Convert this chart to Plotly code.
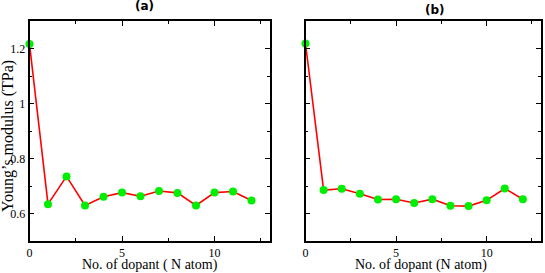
import plotly.graph_objects as go

dopants = list(range(13))
young_a = [1.216, 0.634, 0.735, 0.629, 0.661, 0.676, 0.663, 0.682, 0.675, 0.629, 0.676, 0.680, 0.647]
young_b = [1.218, 0.685, 0.690, 0.672, 0.651, 0.652, 0.638, 0.652, 0.628, 0.627, 0.648, 0.691, 0.652]
panel_titles = ["(a)", "(b)"]
x_titles = ["No. of dopant ( N atom)", "No. of dopant (N atom)"]
y_title = "Young\u2019s modulus (TPa)"

W, H = 545, 273
fig = go.Figure()

serif = "Liberation Serif, Times New Roman, serif"
xdoms = [[29.5 / W, 270 / W], [305.5 / W, 541 / W]]
ydom = [1 - 241 / H, 1 - 21 / H]

for i, ys in enumerate([young_a, young_b]):
    xa = "x" if i == 0 else "x2"
    ya = "y" if i == 0 else "y2"
    fig.add_trace(go.Scatter(
        x=dopants, y=ys, xaxis=xa, yaxis=ya, mode="lines+markers",
        line=dict(color="#ff0000", width=1.6),
        marker=dict(color="#00ee00", size=8, line=dict(width=0)),
        showlegend=False, cliponaxis=False))

common = dict(showline=True, linecolor="black", linewidth=1.5, mirror="allticks",
              ticks="inside", ticklen=5, tickwidth=1, tickcolor="black",
              showgrid=False, zeroline=False, automargin=False,
              tickfont=dict(family=serif, size=12, color="black"))

for i in range(2):
    sfx = "" if i == 0 else "2"
    fig.update_layout(**{
        "xaxis" + sfx: dict(common, domain=xdoms[i], range=[0, 13], dtick=5, tick0=0,
                            anchor="y" + sfx,
                            minor=dict(ticks="inside", ticklen=3, dtick=2.5, tick0=0,
                                       tickcolor="black", showgrid=False)),
        "yaxis" + sfx: dict(common, domain=ydom, range=[0.5, 1.3], dtick=0.2, tick0=0.6,
                            anchor="x" + sfx, showticklabels=(i == 0),
                            minor=dict(ticks="inside", ticklen=3, dtick=0.1, tick0=0.5,
                                       tickcolor="black", showgrid=False)),
    })

def ann(text, x, y, size, family, angle=0):
    return dict(text=text, x=x / W, y=1 - y / H, xref="paper", yref="paper", textangle=angle,
                xanchor="center", yanchor="middle", showarrow=False,
                font=dict(family=family, size=size, color="black"))

fig.update_layout(
    width=W, height=H, margin=dict(l=0, r=0, t=0, b=0),
    paper_bgcolor="white", plot_bgcolor="white",
    annotations=[
        ann(y_title, 8, 136, 16, serif, -90),
        ann(x_titles[0], 150, 265, 14, serif),
        ann(x_titles[1], 421, 265, 14, serif),
        ann("<b>" + panel_titles[0] + "</b>", 144, 6, 12, "DejaVu Sans, sans-serif"),
        ann("<b>" + panel_titles[1] + "</b>", 435, 10, 12, "DejaVu Sans, sans-serif"),
    ],
)

fig.write_html("out.html", config={"displayModeBar": False},
               post_script="document.body.style.margin='0px';")
